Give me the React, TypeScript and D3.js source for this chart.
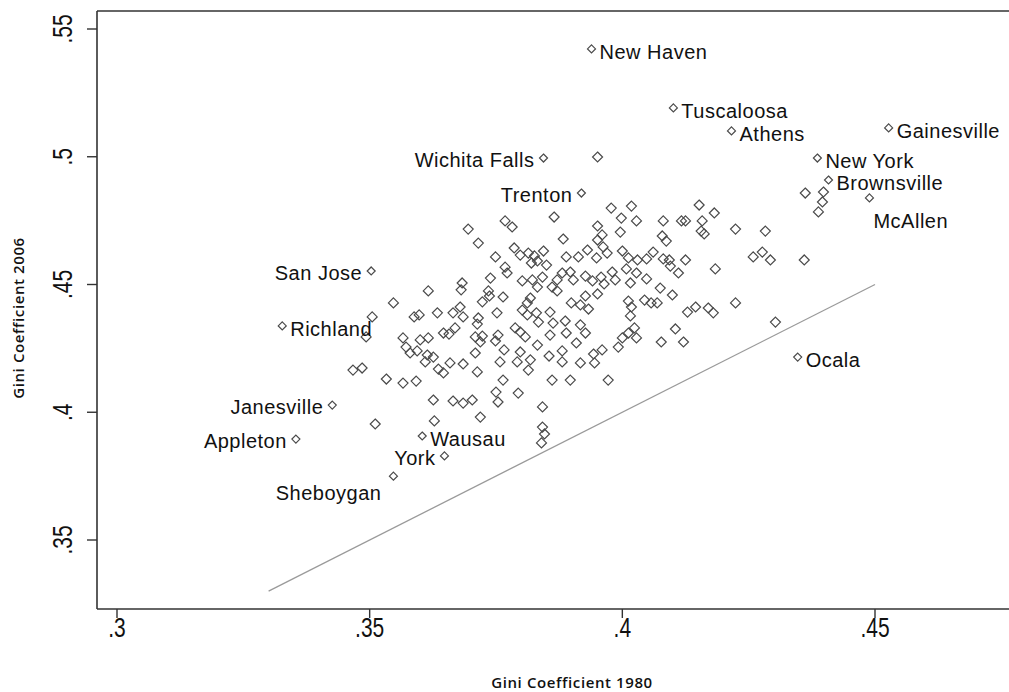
import React from 'react';
import * as d3 from 'd3';

// Unlabelled metro areas: Gini coefficient 1980 (x) and 2006 (y)
const gini1980 = [
  0.3505, 0.3493, 0.3547, 0.3588, 0.3598, 0.3616, 0.3467, 0.3485, 0.3533, 0.3566,
  0.3592, 0.3511, 0.3566, 0.3572, 0.3580, 0.3594, 0.3600, 0.3616, 0.3614, 0.3626,
  0.3610, 0.3636, 0.3646, 0.3626, 0.3665, 0.3685, 0.3703, 0.3628, 0.3634, 0.3665,
  0.3679, 0.3685, 0.3646, 0.3657, 0.3669, 0.3659, 0.3685, 0.3709, 0.3713, 0.3709,
  0.3723, 0.3719, 0.3754, 0.3749, 0.3713, 0.3715, 0.3723, 0.3752, 0.3719, 0.3750,
  0.3754, 0.3683, 0.3681, 0.3695, 0.3715, 0.3749, 0.3768, 0.3782, 0.3865, 0.3768,
  0.3772, 0.3739, 0.3735, 0.3737, 0.3764, 0.3802, 0.3822, 0.3832, 0.3842, 0.3818,
  0.3812, 0.3861, 0.3871, 0.3881, 0.3871, 0.3786, 0.3798, 0.3814, 0.3826, 0.3844,
  0.3820, 0.3832, 0.3850, 0.3883, 0.3802, 0.3812, 0.3830, 0.3857, 0.3788, 0.3798,
  0.3832, 0.3808, 0.3857, 0.3834, 0.3863, 0.3766, 0.3758, 0.3798, 0.3792, 0.3818,
  0.3814, 0.3855, 0.3881, 0.3881, 0.3909, 0.3917, 0.3943, 0.3945, 0.3960, 0.3764,
  0.3861, 0.3897, 0.3972, 0.3794, 0.3842, 0.3842, 0.3846, 0.3840, 0.3887, 0.3889,
  0.3917, 0.3927, 0.3951, 0.3960, 0.3951, 0.3962, 0.3996, 0.3998, 0.3978, 0.4018,
  0.4028, 0.3889, 0.3913, 0.3931, 0.3949, 0.3970, 0.4000, 0.4012, 0.4030, 0.4048,
  0.4061, 0.4081, 0.4093, 0.4095, 0.4125, 0.4111, 0.3897, 0.3903, 0.3927, 0.3941,
  0.3958, 0.3964, 0.3980, 0.3986, 0.4008, 0.4016, 0.4028, 0.4048, 0.4075, 0.4099,
  0.4012, 0.4018, 0.4044, 0.4057, 0.4069, 0.3899, 0.3917, 0.3927, 0.3951, 0.3933,
  0.4129, 0.4145, 0.4170, 0.4180, 0.4016, 0.4024, 0.4012, 0.4028, 0.4000, 0.3992,
  0.4105, 0.4121, 0.4077, 0.4224, 0.4303, 0.4081, 0.4117, 0.4125, 0.4152, 0.4182,
  0.4158, 0.4156, 0.4162, 0.4224, 0.4283, 0.4079, 0.4087, 0.4184, 0.4259, 0.4277,
  0.4293, 0.4360, 0.4362, 0.4398, 0.4396, 0.4388, 0.3951,
];
const gini2006 = [
  0.4373, 0.4295, 0.4428, 0.4373, 0.4381, 0.4475, 0.4165, 0.4173, 0.4130, 0.4114,
  0.4122, 0.3954, 0.4291, 0.4255, 0.4232, 0.4240, 0.4283, 0.4291, 0.4224, 0.4216,
  0.4197, 0.4169, 0.4154, 0.4048, 0.4044, 0.4036, 0.4048, 0.3966, 0.4389, 0.4389,
  0.4412, 0.4373, 0.4310, 0.4306, 0.4330, 0.4193, 0.4189, 0.4232, 0.4158, 0.4295,
  0.4298, 0.4275, 0.4302, 0.4279, 0.4345, 0.4369, 0.4432, 0.4389, 0.3981, 0.4079,
  0.4040, 0.4506, 0.4479, 0.4717, 0.4662, 0.4608, 0.4749, 0.4725, 0.4764, 0.4568,
  0.4545, 0.4525, 0.4475, 0.4455, 0.4451, 0.4514, 0.4518, 0.4490, 0.4529, 0.4447,
  0.4428, 0.4490, 0.4518, 0.4545, 0.4475, 0.4643, 0.4615, 0.4623, 0.4612, 0.4631,
  0.4584, 0.4592, 0.4576, 0.4678, 0.4400, 0.4381, 0.4389, 0.4392, 0.4330, 0.4314,
  0.4263, 0.4295, 0.4302, 0.4353, 0.4349, 0.4244, 0.4197, 0.4236, 0.4197, 0.4205,
  0.4165, 0.4220, 0.4240, 0.4197, 0.4271, 0.4193, 0.4228, 0.4193, 0.4244, 0.4126,
  0.4126, 0.4126, 0.4126, 0.4075, 0.4021, 0.3942, 0.3915, 0.3880, 0.4357, 0.4310,
  0.4342, 0.4310, 0.4729, 0.4694, 0.4674, 0.4647, 0.4705, 0.4760, 0.4799, 0.4807,
  0.4749, 0.4608, 0.4608, 0.4635, 0.4604, 0.4623, 0.4631, 0.4604, 0.4596, 0.4600,
  0.4627, 0.4600, 0.4596, 0.4572, 0.4596, 0.4545, 0.4549, 0.4518, 0.4533, 0.4514,
  0.4529, 0.4502, 0.4549, 0.4518, 0.4561, 0.4506, 0.4545, 0.4522, 0.4486, 0.4459,
  0.4435, 0.4412, 0.4439, 0.4428, 0.4428, 0.4428, 0.4420, 0.4455, 0.4463, 0.4404,
  0.4392, 0.4412, 0.4408, 0.4389, 0.4377, 0.4330, 0.4310, 0.4291, 0.4291, 0.4255,
  0.4326, 0.4275, 0.4275, 0.4428, 0.4353, 0.4749, 0.4749, 0.4749, 0.4811, 0.4780,
  0.4749, 0.4709, 0.4698, 0.4717, 0.4709, 0.4690, 0.4670, 0.4561, 0.4608, 0.4627,
  0.4596, 0.4596, 0.4858, 0.4862, 0.4823, 0.4784, 0.4999,
];

// Labelled metro areas
const cities = [
  'New Haven', 'Tuscaloosa', 'Athens', 'Gainesville', 'Wichita Falls', 'New York',
  'Brownsville', 'Trenton', 'McAllen', 'San Jose', 'Richland', 'Ocala',
  'Janesville', 'Appleton', 'Wausau', 'York', 'Sheboygan',
];
const city1980 = [
  0.3939, 0.4101, 0.4216, 0.4527, 0.3844, 0.4386, 0.4408, 0.3919, 0.4489, 0.3503,
  0.3327, 0.4347, 0.3426, 0.3354, 0.3604, 0.3648, 0.3547,
];
const city2006 = [
  0.5422, 0.5191, 0.5101, 0.5113, 0.4995, 0.4995, 0.4909, 0.4858, 0.4839, 0.4553,
  0.4338, 0.4216, 0.4028, 0.3895, 0.3907, 0.3829, 0.3750,
];
// label clock positions (Stata mlabposition)
const cityLabelPos = [3, 3, 3, 3, 9, 3, 3, 9, 5, 9, 3, 3, 9, 9, 3, 9, 7];

const xTicks = [0.3, 0.35, 0.4, 0.45];
const xTickLabels = ['.3', '.35', '.4', '.45'];
const yTicks = [0.35, 0.4, 0.45, 0.5, 0.55];
const yTickLabels = ['.35', '.4', '.45', '.5', '.55'];
const equalityLine = [0.33, 0.45];

const xTitle = 'Gini Coefficient 1980';
const yTitle = 'Gini Coefficient 2006';

const W = 1009;
const H = 692;
const plotLeft = 97;
const plotTop = 11;
const plotBottom = 609;

const diamond = (r: number) => `M0,${-r}L${r},0L0,${r}L${-r},0Z`;

export default function App() {
  const x = d3.scaleLinear().domain([0.3, 0.45]).range([117, 875]);
  const y = d3.scaleLinear().domain([0.35, 0.55]).range([540, 29]);

  const line = d3
    .line<number>()
    .x((d) => x(d))
    .y((d) => y(d));

  const labelFont = "'Liberation Sans', Arial, sans-serif";
  const tickStyle = { fontFamily: labelFont, fontSize: 28, fill: '#111' };
  const titleStyle = {
    fontFamily: "'Open Sans', sans-serif",
    fontWeight: 600,
    fontSize: 15,
    letterSpacing: 0.6,
    fill: '#111',
  };

  return (
    <svg
      width={W}
      height={H}
      style={{ position: 'absolute', left: 0, top: 0, background: '#fff' }}
    >
      <rect x={0} y={0} width={W} height={H} fill="#fff" />
      {/* equality line */}
      <path d={line(equalityLine) || ''} fill="none" stroke="#9a9a9a" strokeWidth={1.3} />

      {/* frame */}
      <line x1={plotLeft} y1={plotTop} x2={W} y2={plotTop} stroke="#333" strokeWidth={1.6} />
      <line x1={plotLeft} y1={plotTop} x2={plotLeft} y2={plotBottom} stroke="#333" strokeWidth={1.6} />
      <line x1={plotLeft} y1={plotBottom} x2={W} y2={plotBottom} stroke="#333" strokeWidth={1.6} />

      {/* x ticks */}
      {xTicks.map((t, i) => (
        <g key={'xt' + i}>
          <line x1={x(t)} x2={x(t)} y1={plotBottom} y2={plotBottom + 9} stroke="#333" strokeWidth={1.4} />
          <text
            transform={`translate(${x(t)},${637}) scale(0.75,1)`}
            textAnchor="middle"
            style={tickStyle}
          >
            {xTickLabels[i]}
          </text>
        </g>
      ))}

      {/* y ticks */}
      {yTicks.map((t, i) => (
        <g key={'yt' + i}>
          <line x1={plotLeft - 10} x2={plotLeft} y1={y(t)} y2={y(t)} stroke="#333" strokeWidth={1.4} />
          <text
            transform={`translate(${72},${y(t)}) rotate(-90) scale(0.75,1)`}
            textAnchor="middle"
            style={tickStyle}
          >
            {yTickLabels[i]}
          </text>
        </g>
      ))}

      {/* axis titles */}
      <text x={572} y={688} textAnchor="middle" style={titleStyle}>
        {xTitle}
      </text>
      <text transform={`translate(${24},${318}) rotate(-90)`} textAnchor="middle" style={titleStyle}>
        {yTitle}
      </text>

      {/* unlabelled points */}
      {gini1980.map((g, i) => (
        <path
          key={'p' + i}
          d={diamond(5)}
          transform={`translate(${x(g)},${y(gini2006[i])})`}
          fill="none"
          stroke="#4a4a4a"
          strokeWidth={1.2}
        />
      ))}

      {/* labelled points */}
      {cities.map((c, i) => {
        const px = x(city1980[i]);
        const py = y(city2006[i]);
        const pos = cityLabelPos[i];
        let tx = px + 8;
        let ty = py + 3;
        let anchor: 'start' | 'end' = 'start';
        if (pos === 9) {
          tx = px - 9;
          ty = py + 2;
          anchor = 'end';
        } else if (pos === 5) {
          tx = px + 4;
          ty = py + 23;
        } else if (pos === 7) {
          tx = px - 12;
          ty = py + 17;
          anchor = 'end';
        }
        return (
          <g key={'c' + i}>
            <path
              d={diamond(4)}
              transform={`translate(${px},${py})`}
              fill="none"
              stroke="#4a4a4a"
              strokeWidth={1.2}
            />
            <text
              x={tx}
              y={ty}
              textAnchor={anchor}
              dominantBaseline="central"
              style={{ fontFamily: labelFont, fontSize: 20, letterSpacing: 0.5, fill: '#111' }}
            >
              {c}
            </text>
          </g>
        );
      })}
    </svg>
  );
}
